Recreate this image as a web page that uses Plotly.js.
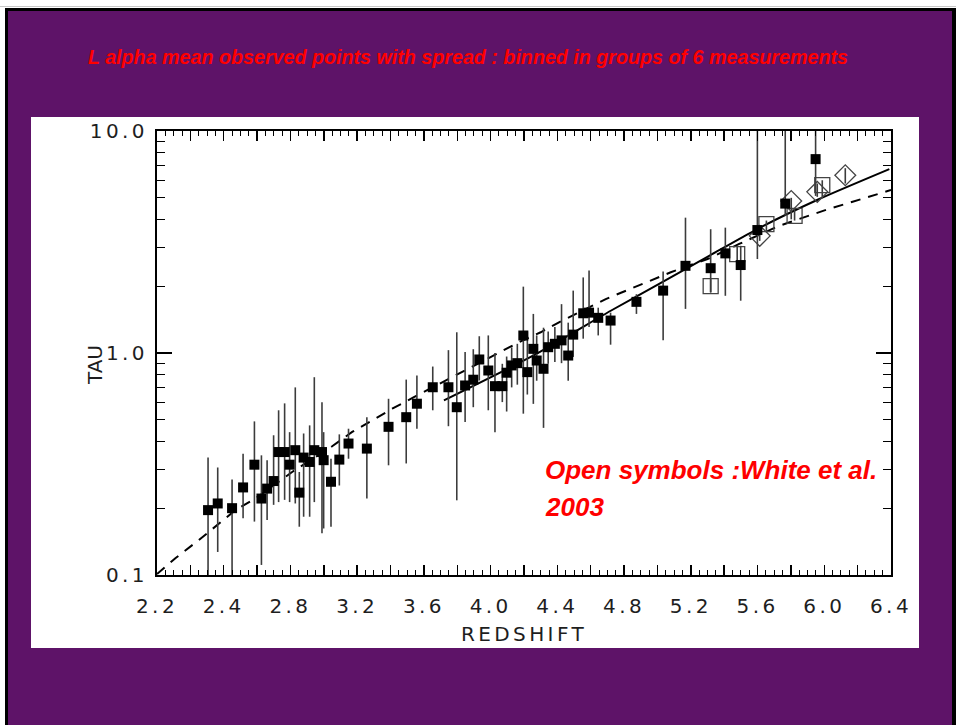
<!DOCTYPE html>
<html>
<head>
<meta charset="utf-8">
<script src="https://cdn.plot.ly/plotly-3.0.1.min.js"></script>
<style>
  html, body { margin: 0; padding: 0; background: #ffffff; }
  #topline { position: absolute; left: 0; top: 6px; width: 956px; height: 1px; background: #c8c8c8; }
  #frame {
    position: absolute; left: 5px; top: 8px; width: 944px; height: 720px;
    background: #5e1368; border-left: 3px solid #000; border-top: 3px solid #000; border-right: 4px solid #000;
  }
  #panel { position: absolute; left: 31px; top: 117px; width: 888px; height: 531px; background: #ffffff; }
  #chart { position: absolute; left: 0; top: 0; width: 956px; height: 725px; }
  #chart .xtick text, #chart .ytick text, #chart .g-xtitle text, #chart .axlabel text { letter-spacing: 3.4px; }
</style>
</head>
<body>
<div id="topline"></div>
<div id="frame"></div>
<div id="panel"></div>
<div id="chart"></div>
<script>
// Binned Lyman-alpha optical depth: mean of each group of 6 measurements with its spread
const zBin   = [2.306, 2.364, 2.450, 2.516, 2.584, 2.626, 2.660, 2.699, 2.729, 2.765, 2.795, 2.829, 2.853, 2.879, 2.915, 2.943, 2.989, 2.999, 3.043, 3.093, 3.148, 3.258,
                3.388, 3.494, 3.558, 3.653, 3.747, 3.797, 3.847, 3.896, 3.932, 3.986, 4.026, 4.070, 4.096, 4.126, 4.160, 4.196, 4.220, 4.256, 4.276, 4.317, 4.345, 4.385, 4.425, 4.465, 4.495,
                4.555, 4.590, 4.645, 4.719, 4.874, 5.034, 5.168, 5.319, 5.407, 5.499, 5.599, 5.766, 5.948];
const tauBin = [0.196, 0.210, 0.200, 0.248, 0.314, 0.221, 0.245, 0.265, 0.358, 0.358, 0.314, 0.365, 0.235, 0.338, 0.323, 0.365, 0.358, 0.329, 0.263, 0.331, 0.391, 0.371,
                0.465, 0.514, 0.591, 0.701, 0.701, 0.570, 0.714, 0.758, 0.935, 0.834, 0.709, 0.709, 0.815, 0.879, 0.900, 1.199, 0.820, 1.044, 0.925, 0.849, 1.062, 1.100, 1.140, 0.974, 1.210,
                1.510, 1.520, 1.440, 1.400, 1.700, 1.910, 2.470, 2.410, 2.810, 2.490, 3.580, 4.710, 7.470];
const tauLo  = [0.100, 0.127, 0.100, 0.180, 0.174, 0.111, 0.177, 0.207, 0.213, 0.218, 0.213, 0.210, 0.165, 0.183, 0.183, 0.213, 0.154, 0.162, 0.165, 0.253, 0.334, 0.221,
                0.312, 0.318, 0.456, 0.552, 0.468, 0.217, 0.489, 0.570, 0.752, 0.552, 0.440, 0.601, 0.545, 0.700, 0.720, 0.533, 0.650, 0.590, 0.750, 0.460, 0.895, 0.910, 0.900, 0.750, 0.960,
                1.160, 1.310, 1.200, 1.090, 1.500, 1.140, 1.580, 1.880, 1.810, 1.720, 2.650, 4.150, 5.100];
const tauHi  = [0.338, 0.305, 0.269, 0.352, 0.492, 0.346, 0.329, 0.426, 0.552, 0.593, 0.440, 0.700, 0.291, 0.434, 0.472, 0.778, 0.600, 0.440, 0.334, 0.430, 0.456, 0.514,
                0.622, 0.759, 0.792, 0.869, 1.030, 1.240, 1.010, 1.040, 1.190, 1.200, 1.000, 0.894, 0.964, 1.060, 1.100, 1.990, 1.250, 1.500, 1.200, 1.300, 1.250, 1.310, 1.660, 1.370, 1.910,
                2.190, 2.350, 1.600, 1.520, 1.840, 2.330, 4.070, 3.610, 3.670, 3.040, 10.00, 10.00, 10.00];

// White et al. (2003): open squares and open diamonds
const zWsq    = [5.319, 5.478, 5.653, 5.822, 5.988];
const tauWsq  = [2.00, 2.79, 3.81, 4.15, 5.70];
const loWsq   = [1.87, 2.60, 3.52, 3.95, 5.00];
const hiWsq   = [2.15, 3.00, 3.95, 4.45, 6.00];
const zWdi    = [5.613, 5.802, 5.958, 6.126];
const tauWdi  = [3.37, 4.84, 5.32, 6.32];
const loWdi   = [3.20, 4.00, 5.05, 5.80];
const hiWdi   = [3.75, 5.00, 5.80, 6.80];

// Model curves
const zSolid   = [3.72, 4.24, 4.72, 5.01, 5.31, 5.59, 5.96, 6.39];
const tauSolid = [0.612, 0.96, 1.55, 2.05, 2.74, 3.59, 4.90, 6.73];
const zDash    = [2.00, 2.11, 2.25, 2.36, 2.47, 2.59, 2.81, 3.05, 3.17, 3.29, 3.41, 3.54, 3.79, 4.04, 4.17, 4.30, 4.43, 4.69, 4.94, 5.08, 5.30, 5.49, 5.73, 5.88, 6.02, 6.17, 6.31, 6.40];
const tauDash  = [0.101, 0.119, 0.1435, 0.168, 0.196, 0.221, 0.291, 0.380, 0.441, 0.497, 0.561, 0.633, 0.793, 0.998, 1.118, 1.24, 1.40, 1.75, 2.08, 2.31, 2.65, 3.10, 3.74, 4.08, 4.44, 4.80, 5.19, 5.42];

// Axis ticks
const xTickVals = [2.0, 2.2, 2.4, 2.6, 2.8, 3.0, 3.2, 3.4, 3.6, 3.8, 4.0, 4.2, 4.4, 4.6, 4.8, 5.0, 5.2, 5.4, 5.6, 5.8, 6.0, 6.2, 6.4];
const xTickText = ['2.2', '', '2.4', '', '2.8', '', '3.2', '', '3.6', '', '4.0', '', '4.4', '', '4.8', '', '5.2', '', '5.6', '', '6.0', '', '6.4'];
const yTickVals = [0.1, 1, 10];
const yTickText = ['0.1', '1.0', '10.0'];
const yMinorVals = [0.2, 0.3, 0.4, 0.5, 0.6, 0.7, 0.8, 0.9, 2, 3, 4, 5, 6, 7, 8, 9];

function spread(center, lo, hi) {
  return {
    type: 'data', symmetric: false,
    array: center.map((c, i) => hi[i] - c),
    arrayminus: center.map((c, i) => c - lo[i]),
    color: '#3c3c3c', thickness: 1.6, width: 0
  };
}

const traces = [
  { x: zDash, y: tauDash, mode: 'lines', line: { color: '#000', width: 2, dash: '10px,8px' }, hoverinfo: 'skip' },
  { x: zSolid, y: tauSolid, mode: 'lines', line: { color: '#000', width: 2, shape: 'spline', smoothing: 0.6 }, hoverinfo: 'skip' },
  { x: zWsq, y: tauWsq, mode: 'markers', error_y: spread(tauWsq, loWsq, hiWsq),
    marker: { symbol: 'square-open', size: 15, color: '#444', line: { width: 1.3 } } },
  { x: zWdi, y: tauWdi, mode: 'markers', error_y: spread(tauWdi, loWdi, hiWdi),
    marker: { symbol: 'diamond-open', size: 16, color: '#444', line: { width: 1.3 } } },
  { x: zBin, y: tauBin, mode: 'markers', error_y: spread(tauBin, tauLo, tauHi),
    marker: { symbol: 'square', size: 10, color: '#000' } }
];

const redFont = (s) => ({ family: 'Liberation Sans, Arial, sans-serif', size: s, color: '#ff0000', weight: 'bold', style: 'italic' });
const axisFont = { family: 'DejaVu Sans, sans-serif', size: 20, color: '#1e1e1e' };

const layout = {
  width: 956, height: 725,
  paper_bgcolor: 'rgba(0,0,0,0)', plot_bgcolor: 'rgba(0,0,0,0)',
  margin: { l: 157, r: 65, t: 131, b: 150, pad: 0 },
  showlegend: false,
  title: { text: 'L alpha mean observed points with spread : binned in groups of 6 measurements',
           font: redFont(19.7), x: 468 / 956, xanchor: 'center', y: 1 - 57 / 725, yanchor: 'middle' },
  xaxis: {
    type: 'linear', range: [2.0, 6.4], tickmode: 'array', tickvals: xTickVals, ticktext: xTickText,
    ticks: 'inside', ticklen: 10, tickwidth: 1.5, tickcolor: '#000',
    showline: true, linecolor: '#000', linewidth: 2, mirror: 'allticks',
    showgrid: false, zeroline: false, tickfont: axisFont, ticklabelstandoff: 12,
    minor: { tickmode: 'linear', tick0: 2.0, dtick: 0.05, ticks: 'inside', ticklen: 5, tickwidth: 1, tickcolor: '#000', showgrid: false },
    title: { text: 'REDSHIFT', font: axisFont, standoff: 10 }
  },
  yaxis: {
    type: 'log', range: [-1, 1], tickmode: 'array', tickvals: yTickVals, ticktext: yTickText,
    ticks: 'inside', ticklen: 15, tickwidth: 1.5, tickcolor: '#000',
    showline: true, linecolor: '#000', linewidth: 2, mirror: 'allticks',
    showgrid: false, zeroline: false, tickfont: axisFont, ticklabelstandoff: 3,
    minor: { tickmode: 'array', tickvals: yMinorVals, ticks: 'inside', ticklen: 8, tickwidth: 1, tickcolor: '#000', showgrid: false }
  },
  annotations: [
    { text: 'TAU', xref: 'paper', yref: 'paper', x: (95 - 157) / 734, y: (575 - 365) / 444,
      xanchor: 'center', yanchor: 'middle', textangle: -90, showarrow: false, font: axisFont },
    { text: 'Open symbols :White et al.', xref: 'paper', yref: 'paper', x: (543 - 157) / 734, y: (575 - 470) / 444,
      xanchor: 'left', yanchor: 'middle', showarrow: false, font: redFont(26) },
    { text: '2003', xref: 'paper', yref: 'paper', x: (543 - 157) / 734, y: (575 - 507) / 444,
      xanchor: 'left', yanchor: 'middle', showarrow: false, font: redFont(26) }
  ]
};

Plotly.newPlot('chart', traces, layout, { staticPlot: true, displayModeBar: false });
</script>
</body>
</html>
